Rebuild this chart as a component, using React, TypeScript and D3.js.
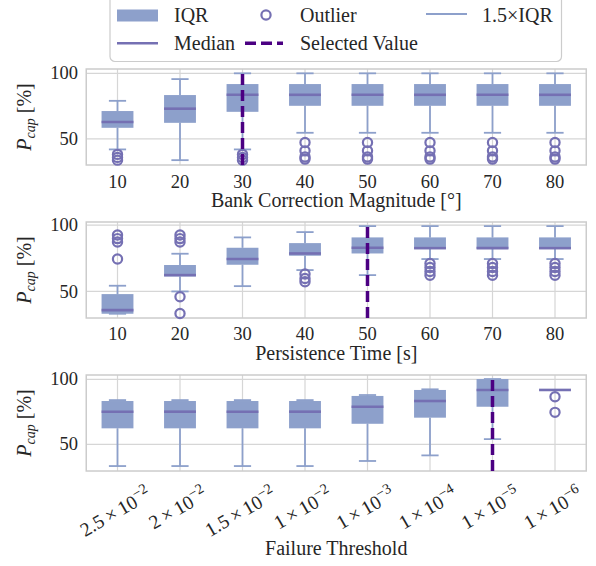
import * as d3 from 'd3';
import React, { useRef, useLayoutEffect } from 'react';

// panel 1: bank correction magnitude
const bankCats = ['10', '20', '30', '40', '50', '60', '70', '80'];
const bankLow = [41.9, 33.7, 41.9, 54.6, 54.6, 54.6, 54.6, 54.6];
const bankQ1 = [58.4, 62.2, 70.6, 75.2, 75.2, 75.2, 75.2, 75.2];
const bankMed = [62.8, 73.0, 83.6, 83.6, 83.6, 83.6, 83.6, 83.6];
const bankQ3 = [71.2, 83.4, 91.8, 91.8, 91.8, 91.8, 91.8, 91.8];
const bankHigh = [79.0, 95.6, 100, 100, 100, 100, 100, 100];
const bankOut = [
  [38.1, 35.8, 33.7],
  [],
  [38.1, 35.8, 33.7],
  [47.2, 40.8, 36.2, 34.5],
  [47.2, 40.8, 36.2, 34.5],
  [47.2, 40.8, 36.2, 34.5],
  [47.2, 40.8, 36.2, 34.5],
  [47.2, 40.8, 36.2, 34.5],
];

// panel 2: persistence time
const persCats = ['10', '20', '30', '40', '50', '60', '70', '80'];
const persLow = [33.2, 50.0, 54.0, 66.1, 62.3, 74.4, 74.4, 74.4];
const persQ1 = [33.2, 61.3, 70.1, 76.9, 78.6, 82.1, 82.1, 82.1];
const persMed = [35.9, 62.3, 74.4, 78.6, 82.9, 82.6, 82.6, 82.6];
const persQ3 = [48.0, 69.9, 82.9, 86.4, 90.7, 90.7, 90.7, 90.7];
const persHigh = [54.3, 78.4, 90.7, 94.7, 99.2, 99.2, 99.2, 99.2];
const persOut = [
  [92.5, 89.8, 87.2, 74.4],
  [92.5, 89.8, 87.2, 46.0, 33.4],
  [],
  [63.1, 59.8, 57.3],
  [],
  [71.1, 68.0, 65.0, 62.2],
  [71.1, 68.0, 65.0, 62.2],
  [71.1, 68.0, 65.0, 62.2],
];

// panel 3: failure threshold
const failMant = ['2.5', '2', '1.5', '1', '1', '1', '1', '1'];
const failExp = ['−2', '−2', '−2', '−2', '−3', '−4', '−5', '−6'];
const failLow = [33.3, 33.3, 33.3, 33.3, 37.2, 41.5, 54.0, 91.8];
const failQ1 = [62.3, 62.3, 62.3, 62.3, 65.8, 70.5, 78.9, 91.8];
const failMed = [75.1, 75.1, 75.1, 75.1, 78.9, 83.3, 91.8, 91.8];
const failQ3 = [83.3, 83.3, 83.3, 83.3, 87.2, 91.8, 100.2, 91.8];
const failHigh = [84.0, 84.0, 84.0, 84.0, 87.9, 92.3, 100.2, 91.8];
const failOut = [[], [], [], [], [], [], [], [86.6, 74.6]];

const yTicks = [50, 100];

const BOX = '#8da0cb';
const MED = '#7570b3';
const SEL = '#4b0082';
const GRID = '#d6d6d6';
const INK = '#262626';
const FONT = "'Liberation Serif', 'Times New Roman', serif";

const W = 596, H = 566;
const left = 86.25, right = 586.25;

const panels = [
  { top: 69, bottom: 165, dom: [30, 103.3], cats: bankCats, low: bankLow, q1: bankQ1, med: bankMed, q3: bankQ3, high: bankHigh, out: bankOut, sel: 2, label: 'Bank Correction Magnitude [°]', tickY: 188, labelY: 206.5 },
  { top: 222, bottom: 318, dom: [30, 102.3], cats: persCats, low: persLow, q1: persQ1, med: persMed, q3: persQ3, high: persHigh, out: persOut, sel: 4, label: 'Persistence Time [s]', tickY: 339.5, labelY: 359.5 },
  { top: 375, bottom: 471, dom: [29.5, 103.3], cats: failMant.map((m, i) => m + 'e' + failExp[i]), low: failLow, q1: failQ1, med: failMed, q3: failQ3, high: failHigh, out: failOut, sel: 6, label: 'Failure Threshold', tickY: 0, labelY: 555 },
];

function Panel({ p, rotated }: any) {
  const x = d3.scaleBand<string>().domain(p.cats).range([left, right]).padding(0);
  const y = d3.scaleLinear().domain(p.dom).range([p.bottom, p.top]);
  const bw = x.bandwidth();
  const boxW = bw * 0.51;
  const capW = boxW * 0.54;
  const cx = (c: string) => (x(c) as number) + bw / 2;
  const labelRefs = useRef<(SVGTextElement | null)[]>([]);

  useLayoutEffect(() => {
    if (!rotated) return;
    labelRefs.current.forEach((el, i) => {
      if (!el) return;
      const w = el.getComputedTextLength();
      const hb = w * 0.5 + 22 * 0.866;
      const tx = cx(p.cats[i]) - 2;
      const ty = p.bottom + 12 + hb / 2;
      d3.select(el).attr('transform', `translate(${tx},${ty}) rotate(-30)`);
    });
  }, []);

  const midY = (p.top + p.bottom) / 2;

  return (
    <g>
      {/* grid */}
      {p.cats.map((c: string) => (
        <line key={'gx' + c} x1={cx(c)} x2={cx(c)} y1={p.top} y2={p.bottom} stroke={GRID} strokeWidth={1.2} />
      ))}
      {yTicks.map((t) => (
        <line key={'gy' + t} x1={left} x2={right} y1={y(t)} y2={y(t)} stroke={GRID} strokeWidth={1.2} />
      ))}
      <rect x={left} y={p.top} width={right - left} height={p.bottom - p.top} fill="none" stroke="#cccccc" strokeWidth={1.5} />

      {/* boxes */}
      {p.cats.map((c: string, i: number) => {
        const xc = cx(c);
        return (
          <g key={'b' + c}>
            <line x1={xc} x2={xc} y1={y(p.low[i])} y2={y(p.q1[i])} stroke={BOX} strokeWidth={1.8} />
            <line x1={xc} x2={xc} y1={y(p.q3[i])} y2={y(p.high[i])} stroke={BOX} strokeWidth={1.8} />
            <line x1={xc - capW / 2} x2={xc + capW / 2} y1={y(p.low[i])} y2={y(p.low[i])} stroke={BOX} strokeWidth={1.8} />
            <line x1={xc - capW / 2} x2={xc + capW / 2} y1={y(p.high[i])} y2={y(p.high[i])} stroke={BOX} strokeWidth={1.8} />
            <rect x={xc - boxW / 2} y={y(p.q3[i])} width={boxW} height={Math.max(0, y(p.q1[i]) - y(p.q3[i]))} fill={BOX} />
            <line x1={xc - boxW / 2} x2={xc + boxW / 2} y1={y(p.med[i])} y2={y(p.med[i])} stroke={MED} strokeWidth={2.6} />
            {p.out[i].map((v: number, j: number) => (
              <circle key={j} cx={xc} cy={y(v)} r={4.6} fill="none" stroke={MED} strokeWidth={2.2} />
            ))}
          </g>
        );
      })}

      {/* selected value */}
      <line x1={cx(p.cats[p.sel])} x2={cx(p.cats[p.sel])} y1={p.bottom} y2={p.top} stroke={SEL} strokeWidth={3.5} strokeDasharray="11,5" />

      {/* y axis */}
      {yTicks.map((t) => (
        <text key={'yt' + t} x={78} y={y(t)} dy="0.33em" textAnchor="end" fontSize={18.5} fill={INK}>{t}</text>
      ))}
      <text transform={`translate(31,${midY}) rotate(-90)`} textAnchor="middle" fontSize={20} fill={INK}>
        <tspan fontStyle="italic">P</tspan>
        <tspan fontStyle="italic" fontSize={14} dy={4}>cap</tspan>
        <tspan dy={-4}> [%]</tspan>
      </text>

      {/* x axis */}
      {!rotated && p.cats.map((c: string) => (
        <text key={'xt' + c} x={cx(c)} y={p.tickY} textAnchor="middle" fontSize={18.5} fill={INK}>{c}</text>
      ))}
      {rotated && p.cats.map((c: string, i: number) => (
        <text key={'xr' + c} ref={(el) => { labelRefs.current[i] = el; }} textAnchor="middle" dy="0.33em" fontSize={19.5} fill={INK}>
          {failMant[i]}{'\u2009×\u2009'}10<tspan dy={-8} fontSize={14.5}>{failExp[i]}</tspan>
        </text>
      ))}
      <text x={(left + right) / 2} y={p.labelY} textAnchor="middle" fontSize={20} fill={INK}>{p.label}</text>
    </g>
  );
}

function Legend() {
  return (
    <g fontSize={20} fill={INK}>
      <rect x={110} y={-6} width={451.5} height={67.5} rx={5} fill="#ffffff" fillOpacity={0.8} stroke="#cccccc" strokeWidth={1.2} />
      <rect x={117} y={9.5} width={41} height={12} fill={BOX} />
      <text x={174} y={21.5}>IQR</text>
      <circle cx={266} cy={15} r={4.6} fill="none" stroke={MED} strokeWidth={2.2} />
      <text x={300} y={21.5}>Outlier</text>
      <line x1={426} x2={467} y1={14} y2={14} stroke={BOX} strokeWidth={1.8} />
      <text x={482} y={21.5}>1.5×IQR</text>
      <line x1={117} x2={158} y1={43.3} y2={43.3} stroke={MED} strokeWidth={2.6} />
      <text x={174} y={49.5}>Median</text>
      <line x1={245} x2={283} y1={43.3} y2={43.3} stroke={SEL} strokeWidth={3.5} strokeDasharray="11,5" />
      <text x={300} y={49.5}>Selected Value</text>
    </g>
  );
}

export default function App() {
  return (
    <svg width={W} height={H} viewBox={`0 0 ${W} ${H}`} style={{ position: 'absolute', left: 0, top: 0, background: '#fff', fontFamily: FONT }}>
      {panels.map((p, i) => (
        <Panel key={i} p={p} rotated={i === 2} />
      ))}
      <Legend />
    </svg>
  );
}
